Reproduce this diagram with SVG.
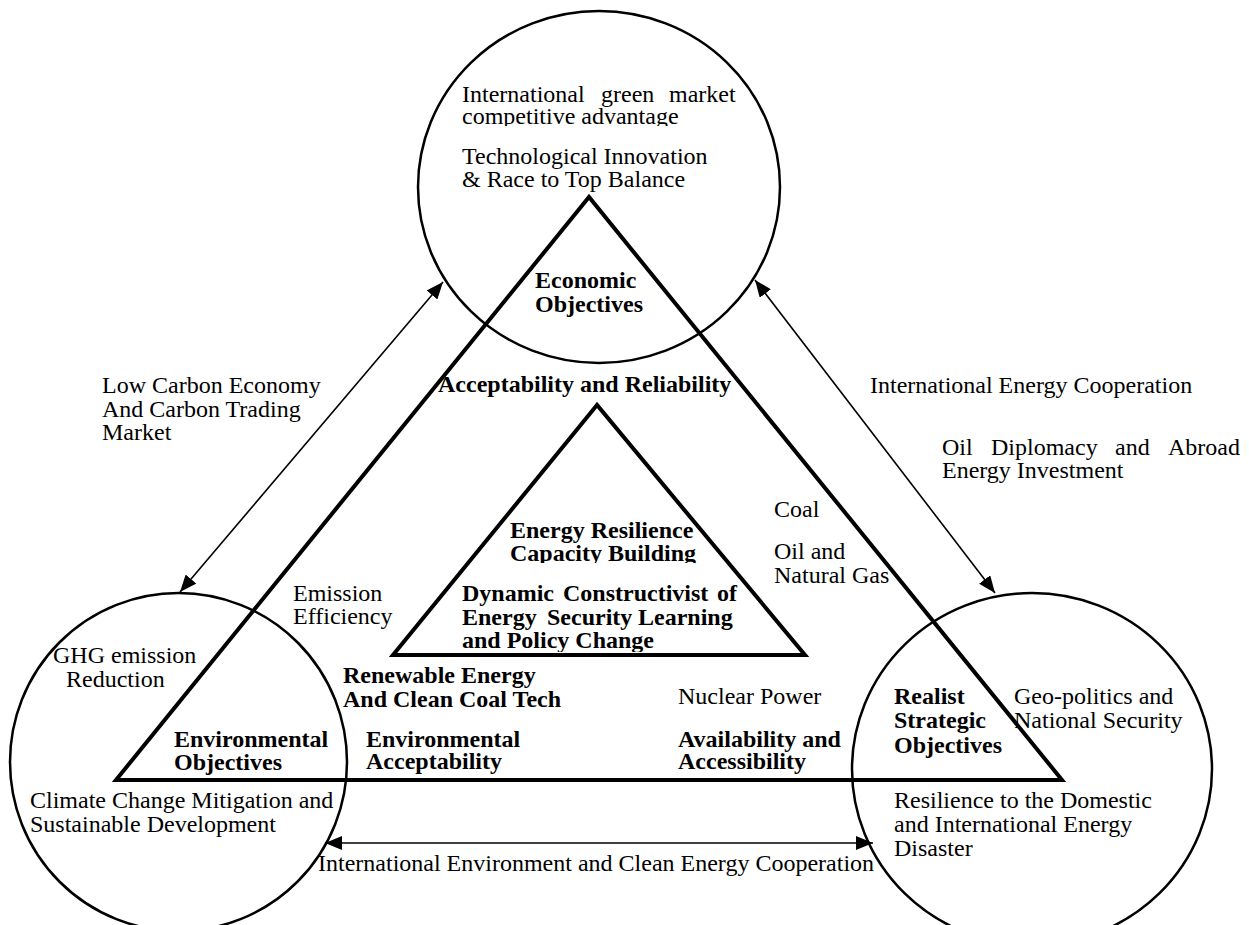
<svg xmlns="http://www.w3.org/2000/svg" width="1249" height="925" viewBox="0 0 1249 925">
<style>
text{font-family:"Liberation Serif","Times New Roman",serif;font-size:24px;fill:#000}
.b{font-weight:bold}
.circ{fill:none;stroke:#000;stroke-width:2.5}
.tri{fill:none;stroke:#000;stroke-width:4;stroke-linejoin:miter;stroke-miterlimit:10}
.arr{fill:none;stroke:#000;stroke-width:1.6;marker-start:url(#ah);marker-end:url(#ah)}
</style>
<defs>
<marker id="ah" markerUnits="userSpaceOnUse" markerWidth="18" markerHeight="14" refX="17" refY="7" orient="auto-start-reverse">
<path d="M0,0 L17,7 L0,14 z" fill="#000"/>
</marker>
<clipPath id="c1"><rect x="400" y="104" width="400" height="22"/></clipPath>
<clipPath id="c2"><rect x="480" y="540" width="260" height="23"/></clipPath>
<clipPath id="c3"><rect x="440" y="628" width="320" height="24"/></clipPath>
</defs>
<rect width="1249" height="925" fill="#fff"/>

<g id="economic-circle">
<ellipse class="circ" cx="599" cy="187" rx="181" ry="176"/>
<text x="462" y="102">International<tspan x="601">green</tspan><tspan x="669">market</tspan></text>
<text x="462" y="124" clip-path="url(#c1)">competitive advantage</text>
<text x="462" y="164">Technological Innovation</text>
<text x="462" y="187">&amp; Race to Top Balance</text>
</g>

<g id="environmental-circle">
<ellipse class="circ" cx="178.5" cy="762" rx="168.5" ry="169"/>
<text x="53" y="663">GHG emission</text>
<text x="66" y="687">Reduction</text>
<text x="30" y="808">Climate Change Mitigation and</text>
<text x="30" y="832">Sustainable Development</text>
</g>

<g id="realist-circle">
<ellipse class="circ" cx="1032" cy="769" rx="180" ry="176"/>
<text x="1014" y="704">Geo-politics and</text>
<text x="1014" y="728">National Security</text>
<text x="894" y="808">Resilience to the Domestic</text>
<text x="894" y="832">and International Energy</text>
<text x="894" y="856">Disaster</text>
</g>

<g id="main-triangle">
<polygon class="tri" points="589,197 116,780 1062,780"/>
<text class="b" x="535" y="288">Economic</text>
<text class="b" x="535" y="312">Objectives</text>
<text class="b" x="438" y="392">Acceptability and Reliability</text>
<text class="b" x="174" y="747">Environmental</text>
<text class="b" x="174" y="770">Objectives</text>
<text class="b" x="894" y="704">Realist</text>
<text class="b" x="894" y="728">Strategic</text>
<text class="b" x="894" y="753">Objectives</text>
<text class="b" x="343" y="683">Renewable Energy</text>
<text class="b" x="343" y="707">And Clean Coal Tech</text>
<text class="b" x="366" y="747">Environmental</text>
<text class="b" x="366" y="769">Acceptability</text>
<text x="678" y="704">Nuclear Power</text>
<text class="b" x="678" y="747">Availability and</text>
<text class="b" x="678" y="769">Accessibility</text>
<text x="293" y="601">Emission</text>
<text x="293" y="624">Efficiency</text>
<text x="774" y="517">Coal</text>
<text x="774" y="559">Oil and</text>
<text x="774" y="583">Natural Gas</text>
</g>

<g id="inner-triangle">
<polygon class="tri" points="597,405 393,655 805,655"/>
<text class="b" x="510" y="538">Energy Resilience</text>
<text class="b" x="510" y="561" clip-path="url(#c2)">Capacity Building</text>
<text class="b" x="462" y="601">Dynamic<tspan x="563">Constructivist</tspan><tspan x="717">of</tspan></text>
<text class="b" x="462" y="625">Energy<tspan x="547">Security</tspan><tspan x="638">Learning</tspan></text>
<text class="b" x="462" y="648" clip-path="url(#c3)">and Policy Change</text>
</g>

<g id="connectors">
<line class="arr" x1="443" y1="282" x2="180" y2="592"/>
<line class="arr" x1="755" y1="280" x2="995" y2="593"/>
<line class="arr" x1="325" y1="843" x2="873" y2="843"/>
</g>

<g id="connector-labels">
<text x="102" y="393">Low Carbon Economy</text>
<text x="102" y="417">And Carbon Trading</text>
<text x="102" y="440">Market</text>
<text x="870" y="393">International Energy Cooperation</text>
<text x="942" y="455">Oil<tspan x="991">Diplomacy</tspan><tspan x="1115">and</tspan><tspan x="1168">Abroad</tspan></text>
<text x="942" y="478">Energy Investment</text>
<text x="318" y="871">International Environment and Clean Energy Cooperation</text>
</g>
</svg>
